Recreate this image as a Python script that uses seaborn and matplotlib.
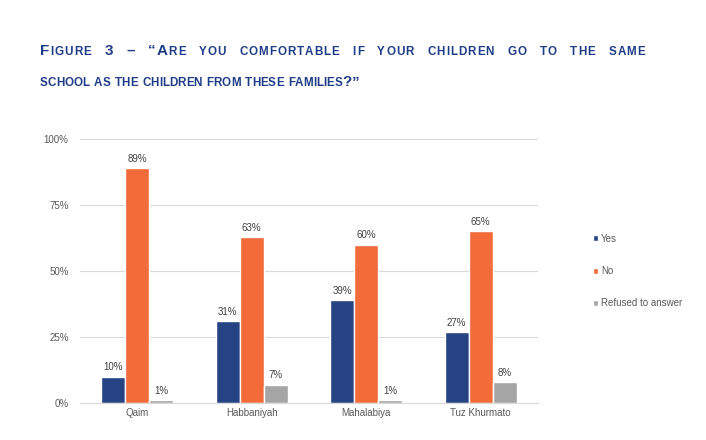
import matplotlib
matplotlib.use('Agg')
import matplotlib.pyplot as plt
import seaborn as sns
import pandas as pd
from matplotlib.ticker import PercentFormatter

# data
locations = ['Qaim', 'Habbaniyah', 'Mahalabiya', 'Tuz Khurmato']
answers = ['Yes', 'No', 'Refused to answer']
yes_vals = [10, 31, 39, 27]
no_vals = [89, 63, 60, 65]
refused_vals = [1, 7, 1, 8]
yticks = [0, 25, 50, 75, 100]

# title in small caps: lowercase letters are drawn as smaller capitals
title_line1 = 'Figure 3 – “Are you comfortable if your children go to the same'
title_line2 = 'school as the children from these families?”'

rows = []
for ans, vals in zip(answers, [yes_vals, no_vals, refused_vals]):
    for loc, v in zip(locations, vals):
        rows.append({'location': loc, 'answer': ans, 'value': v})
df = pd.DataFrame(rows)

sns.set_style('white')
plt.rcParams['font.family'] = ['Liberation Sans', 'DejaVu Sans']

palette = {'Yes': '#264384', 'No': '#F26B38', 'Refused to answer': '#A5A5A5'}
TITLE_COLOR = '#1F3C88'

fig = plt.figure(figsize=(7.06, 4.4), dpi=100)
ax = fig.add_axes([0.113, 0.084, 0.649, 0.6])

sns.barplot(data=df, x='location', y='value', hue='answer', order=locations,
            hue_order=answers, palette=palette, width=0.63, saturation=1,
            ax=ax)

for cont in ax.containers:
    ax.bar_label(cont, labels=[f'{int(round(b.get_height()))}%' for b in cont],
                 padding=3, fontsize=7, color='#404040')

ax.set_ylim(0, 100)
ax.set_xlim(-0.5, 3.5)
ax.set_yticks(yticks)
ax.yaxis.set_major_formatter(PercentFormatter(decimals=0))
ax.grid(axis='y', color='#D9D9D9', linewidth=0.8)
ax.set_axisbelow(True)
for s in ['top', 'right', 'left']:
    ax.spines[s].set_visible(False)
ax.spines['bottom'].set_color('#D9D9D9')
ax.tick_params(axis='both', length=0, labelsize=7, labelcolor='#595959')
ax.tick_params(axis='y', pad=8)
ax.set_xlabel('')
ax.set_ylabel('')

leg = ax.legend(loc='center left', bbox_to_anchor=(1.1, 0.5), frameon=False,
                fontsize=7, handlelength=0.6, handleheight=0.6,
                handletextpad=0.3, labelspacing=2.3)
for t in leg.get_texts():
    t.set_color('#595959')


# ── small-caps title drawn letter by letter ────────────────────────────────
renderer = fig.canvas.get_renderer()
BIG, SMALL = 11, 8.4
_cache = {}


def char_w(ch, size):
    key = (ch, size)
    if key not in _cache:
        if ch == ' ':
            _cache[key] = size * 0.28 * 100 / 72
        else:
            t = fig.text(0, 0, ch, fontsize=size, fontweight='bold')
            _cache[key] = t.get_window_extent(renderer).width
            t.remove()
    return _cache[key]


def draw_line(text, x0, y0, width=None, track=0.0):
    gl = [(ch.upper(), SMALL if ch.islower() else BIG) for ch in text]
    base = sum(char_w(c, s) for c, s in gl) + track * (len(gl) - 1)
    extra = 0.0
    n_spaces = sum(1 for c, _ in gl if c == ' ')
    if width is not None and n_spaces:
        extra = (width - base) / n_spaces   # justify: stretch the word gaps
    x = x0
    for c, s in gl:
        if c != ' ':
            fig.text(x / 706, y0 / 440, c, fontsize=s, fontweight='bold',
                     color=TITLE_COLOR, ha='left', va='baseline')
        x += char_w(c, s) + track + (extra if c == ' ' else 0)


draw_line(title_line1, 40, 440 - 55, width=605, track=1.0)
draw_line(title_line2, 40, 440 - 86, track=0.0)

fig.savefig('out.png', dpi=100)
